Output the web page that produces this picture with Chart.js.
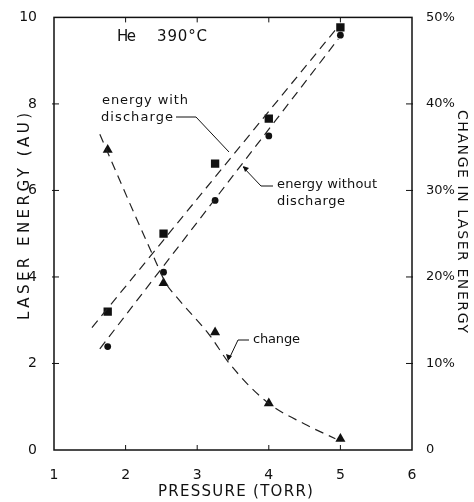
<!DOCTYPE html>
<html lang="en">
<head>
    <meta charset="utf-8" />
    <title>Laser energy vs pressure</title>
    <script src="https://cdn.jsdelivr.net/npm/chart.js"></script>
    <style>
        body { margin: 0; background: #fff; }
        #wrap { width: 474px; height: 502px; }
    </style>
</head>
<body>
    <div id="wrap"><canvas id="laserChart" width="474" height="502"></canvas></div>
    <script>
        // values
        const pressure = [1.75, 2.53, 3.25, 4.0, 5.0];
        const energyWith = [3.2, 5.0, 6.62, 7.66, 9.77];
        const energyWithout = [2.39, 4.11, 5.77, 7.26, 9.59];
        const changePct = [34.7, 19.3, 13.6, 5.4, 1.3];

        // dashed fit lines (ends / points)
        const fitWithX = [1.53, 4.95];
        const fitWithY = [2.83, 9.75];
        const fitWithoutX = [1.64, 4.97];
        const fitWithoutY = [2.34, 9.5];
        const changeCurveX = [1.64, 2.17, 2.42, 2.56, 2.72, 3.18, 3.44, 3.98, 4.5, 4.93];
        const changeCurveY = [36.5, 26.4, 21.8, 19.3, 17.6, 13.2, 10.1, 5.5, 3.0, 1.3];

        const xTicks = [1, 2, 3, 4, 5, 6];
        const leftTicks = [0, 2, 4, 6, 8, 10];
        const rightTicks = [0, 10, 20, 30, 40, 50];

        const ink = '#111';
        const font = '"DejaVu Sans", sans-serif';

        function pts(xs, ys) {
            return xs.map((x, i) => ({ x: x, y: ys[i] }));
        }

        // write text stretched (via letter spacing) to a given width
        function fitText(ctx, str, x, y, width) {
            ctx.letterSpacing = '0px';
            const w = ctx.measureText(str).width;
            const gap = (width - w) / Math.max(1, str.length - 1);
            ctx.letterSpacing = gap.toFixed(2) + 'px';
            ctx.fillText(str, x, y);
            ctx.letterSpacing = '0px';
        }

        const dashed = {
            showLine: true,
            borderColor: '#222',
            borderWidth: 1.2,
            borderDash: [9, 6],
            pointRadius: 0,
            fill: false
        };

        // frame, inner ticks, titles and the little labels with leaders
        const decor = {
            id: 'decor',
            afterDraw(chart) {
                const ctx = chart.ctx;
                const a = chart.chartArea;
                const sx = chart.scales.x, sy = chart.scales.y, sy2 = chart.scales.y2;
                ctx.save();
                ctx.strokeStyle = ink;
                ctx.lineWidth = 1.5;
                ctx.strokeRect(a.left, a.top, a.right - a.left, a.bottom - a.top);

                ctx.lineWidth = 1;
                ctx.beginPath();
                xTicks.slice(1, -1).forEach(v => {
                    const px = sx.getPixelForValue(v);
                    ctx.moveTo(px, a.bottom); ctx.lineTo(px, a.bottom - 5);
                    ctx.moveTo(px, a.top); ctx.lineTo(px, a.top + 5);
                });
                leftTicks.slice(1, -1).forEach(v => {
                    const py = sy.getPixelForValue(v);
                    ctx.moveTo(a.left - 2, py); ctx.lineTo(a.left + 5, py);
                });
                rightTicks.slice(1, -1).forEach(v => {
                    const py = sy2.getPixelForValue(v);
                    ctx.moveTo(a.right + 1, py); ctx.lineTo(a.right - 6, py);
                });
                ctx.stroke();

                ctx.fillStyle = ink;
                ctx.textBaseline = 'middle';
                ctx.font = '15px ' + font;
                fitText(ctx, 'He', 117, 37, 19);
                fitText(ctx, '390°C', 157, 37, 50);
                ctx.font = '13px ' + font;
                fitText(ctx, 'energy with', 102, 101, 86);
                fitText(ctx, 'discharge', 101, 118, 72);
                fitText(ctx, 'energy without', 277, 185, 100);
                fitText(ctx, 'discharge', 277, 202, 68);
                fitText(ctx, 'change', 253, 340, 47);

                // leader lines
                ctx.beginPath();
                ctx.moveTo(176, 117); ctx.lineTo(196, 117); ctx.lineTo(229, 152);
                ctx.moveTo(273, 186); ctx.lineTo(261, 186); ctx.lineTo(243, 167);
                ctx.moveTo(249, 340); ctx.lineTo(238, 340); ctx.lineTo(229, 359);
                ctx.stroke();
                ctx.beginPath();
                ctx.moveTo(243, 166); ctx.lineTo(249, 168); ctx.lineTo(245, 172);
                ctx.moveTo(228, 361); ctx.lineTo(226, 354); ctx.lineTo(232, 356);
                ctx.fill();

                // axis titles
                ctx.font = '15px ' + font;
                fitText(ctx, 'PRESSURE (TORR)', 158, 492, 155);
                ctx.save();
                ctx.translate(25, 320);
                ctx.rotate(-Math.PI / 2);
                fitText(ctx, 'LASER ENERGY (AU)', 0, 0, 207);
                ctx.restore();
                ctx.font = '14px ' + font;
                ctx.save();
                ctx.translate(462, 110);
                ctx.rotate(Math.PI / 2);
                fitText(ctx, 'CHANGE IN LASER ENERGY', 0, 0, 223);
                ctx.restore();
                ctx.restore();
            }
        };

        const config = {
            type: 'scatter',
            data: {
                datasets: [
                    Object.assign({ data: pts(fitWithX, fitWithY), yAxisID: 'y' }, dashed),
                    Object.assign({ data: pts(fitWithoutX, fitWithoutY), yAxisID: 'y' }, dashed),
                    Object.assign({ data: pts(changeCurveX, changeCurveY), yAxisID: 'y2', cubicInterpolationMode: 'monotone' }, dashed),
                    {
                        data: pts(pressure, energyWith), yAxisID: 'y',
                        pointStyle: 'rect', pointRadius: 5.9,
                        backgroundColor: ink, borderColor: ink, borderWidth: 0
                    },
                    {
                        data: pts(pressure, energyWithout), yAxisID: 'y',
                        pointStyle: 'circle', pointRadius: 3.4,
                        backgroundColor: ink, borderColor: ink, borderWidth: 0
                    },
                    {
                        data: pts(pressure, changePct), yAxisID: 'y2',
                        pointStyle: 'triangle', pointRadius: 5.8,
                        backgroundColor: ink, borderColor: ink, borderWidth: 0
                    }
                ]
            },
            options: {
                responsive: false,
                animation: false,
                layout: { padding: { top: 15, left: 0, right: 0, bottom: 0 } },
                plugins: { legend: { display: false }, tooltip: { enabled: false } },
                scales: {
                    x: {
                        type: 'linear', min: 1, max: 6,
                        afterBuildTicks: s => { s.ticks = xTicks.map(v => ({ value: v })); },
                        afterFit: s => { s.height = 52; },
                        grid: { display: false },
                        border: { display: false },
                        ticks: { color: ink, padding: 9, font: { family: font, size: 14 } }
                    },
                    y: {
                        position: 'left', min: 0, max: 10,
                        afterBuildTicks: s => { s.ticks = leftTicks.map(v => ({ value: v })); },
                        afterFit: s => { s.width = 54; },
                        grid: { display: false },
                        border: { display: false },
                        ticks: { color: ink, padding: 9, font: { family: font, size: 14 } }
                    },
                    y2: {
                        position: 'right', min: 0, max: 50,
                        afterBuildTicks: s => { s.ticks = rightTicks.map(v => ({ value: v })); },
                        afterFit: s => { s.width = 62; },
                        grid: { display: false },
                        border: { display: false },
                        ticks: {
                            color: ink, padding: 6, font: { family: font, size: 13 },
                            callback: v => v === 0 ? '0' : v + '%'
                        }
                    }
                }
            },
            plugins: [decor]
        };

        const laserChart = new Chart(document.getElementById('laserChart'), config);
    </script>
</body>
</html>
